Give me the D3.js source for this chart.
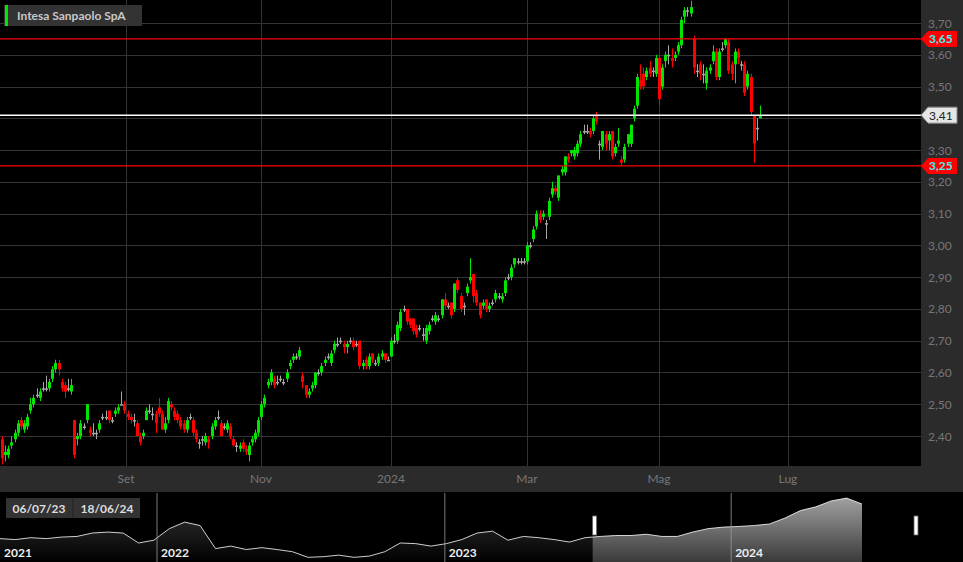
<!DOCTYPE html>
<html>
<head>
<meta charset="utf-8">
<script src="https://cdn.jsdelivr.net/npm/d3@7"></script>
<style>
  body { margin: 0; background: #000; overflow: hidden; }
  svg { display: block; font-family: Lato, "Open Sans", sans-serif; }
</style>
</head>
<body>
<svg id="chart" width="963" height="562"></svg>
<script>
// daily OHLC, 06/07/23 .. 18/06/24
var opens = [
  2.39,2.34,2.34,2.37,2.39,2.41,2.45,2.42,2.43,2.48, 2.50,2.53,2.52,2.55,2.55,2.55,2.58,2.61,2.63,2.57,
  2.56,2.55,2.54,2.45,2.39,2.40,2.43,2.45,2.42,2.41, 2.41,2.42,2.46,2.46,2.48,2.45,2.47,2.48,2.50,2.50,
  2.47,2.46,2.45,2.44,2.40,2.40,2.45,2.48,2.47,2.47, 2.49,2.47,2.42,2.45,2.50,2.48,2.47,2.45,2.44,2.42,
  2.46,2.45,2.41,2.38,2.39,2.38,2.39,2.40,2.43,2.46, 2.44,2.43,2.42,2.43,2.39,2.37,2.36,2.38,2.36,2.34,
  2.38,2.39,2.41,2.46,2.50,2.56,2.57,2.58,2.57,2.58, 2.57,2.58,2.62,2.64,2.65,2.65,2.59,2.56,2.53,2.55,
  2.56,2.60,2.60,2.63,2.65,2.63,2.67,2.69,2.70,2.69, 2.68,2.70,2.70,2.69,2.70,2.62,2.64,2.62,2.66,2.63,
  2.63,2.65,2.66,2.64,2.65,2.70,2.70,2.74,2.80,2.80, 2.77,2.77,2.74,2.74,2.72,2.70,2.73,2.77,2.76,2.77,
  2.78,2.83,2.81,2.82,2.80,2.89,2.84,2.81,2.85,2.89, 2.91,2.85,2.82,2.81,2.83,2.80,2.82,2.83,2.84,2.83,
  2.85,2.90,2.90,2.94,2.95,2.95,2.95,2.95,3.00,3.02, 3.06,3.10,3.09,3.07,3.09,3.16,3.18,3.15,3.23,3.23,
  3.28,3.29,3.28,3.29,3.32,3.36,3.36,3.36,3.36,3.41, 3.32,3.31,3.35,3.33,3.36,3.29,3.32,3.27,3.27,3.32,
  3.32,3.40,3.44,3.52,3.54,3.53,3.56,3.55,3.54,3.59, 3.50,3.58,3.60,3.59,3.59,3.61,3.63,3.72,3.74,3.73,
  3.65,3.55,3.57,3.54,3.51,3.55,3.58,3.61,3.53,3.62, 3.63,3.64,3.57,3.57,3.61,3.57,3.57,3.50,3.53,3.41,
  3.37,3.40
];
var closes = [
  2.33,2.35,2.36,2.38,2.41,2.44,2.43,2.44,2.46,2.50, 2.52,2.53,2.54,2.55,2.55,2.57,2.61,2.63,2.61,2.55,
  2.54,2.55,2.56,2.34,2.40,2.44,2.43,2.50,2.41,2.41, 2.41,2.44,2.46,2.46,2.45,2.45,2.48,2.49,2.50,2.48,
  2.46,2.45,2.45,2.40,2.38,2.41,2.48,2.48,2.47,2.44, 2.47,2.42,2.44,2.51,2.49,2.46,2.45,2.43,2.42,2.45,
  2.46,2.41,2.39,2.38,2.39,2.40,2.38,2.43,2.45,2.46, 2.40,2.43,2.44,2.40,2.37,2.37,2.37,2.36,2.35,2.37,
  2.39,2.41,2.45,2.50,2.52,2.57,2.60,2.56,2.57,2.58, 2.57,2.60,2.63,2.65,2.65,2.67,2.57,2.53,2.54,2.56,
  2.60,2.60,2.62,2.64,2.65,2.66,2.69,2.69,2.70,2.68, 2.69,2.70,2.68,2.69,2.62,2.63,2.62,2.65,2.64,2.63,
  2.65,2.66,2.64,2.64,2.70,2.70,2.75,2.79,2.80,2.76, 2.75,2.73,2.72,2.74,2.72,2.74,2.75,2.77,2.78,2.77,
  2.83,2.81,2.81,2.78,2.88,2.86,2.80,2.81,2.87,2.90, 2.84,2.82,2.78,2.82,2.80,2.81,2.82,2.85,2.84,2.84,
  2.89,2.90,2.93,2.96,2.95,2.95,2.95,3.00,3.00,3.05, 3.10,3.08,3.10,3.07,3.14,3.18,3.17,3.22,3.24,3.28,
  3.27,3.30,3.30,3.32,3.35,3.36,3.36,3.35,3.40,3.39, 3.32,3.36,3.32,3.35,3.28,3.31,3.33,3.26,3.31,3.35,
  3.38,3.43,3.53,3.50,3.50,3.55,3.54,3.55,3.59,3.46, 3.56,3.60,3.60,3.58,3.60,3.63,3.71,3.74,3.74,3.75,
  3.56,3.55,3.54,3.54,3.55,3.56,3.61,3.53,3.61,3.62, 3.65,3.55,3.54,3.61,3.59,3.57,3.48,3.54,3.42,3.32,
  3.37,3.41
];
var highs = [
  2.40,2.37,2.37,2.40,2.42,2.45,2.46,2.45,2.47,2.52, 2.53,2.55,2.55,2.57,2.59,2.58,2.62,2.64,2.64,2.58,
  2.57,2.58,2.58,2.45,2.41,2.45,2.44,2.50,2.43,2.44, 2.42,2.45,2.47,2.48,2.48,2.46,2.49,2.50,2.54,2.51,
  2.48,2.47,2.47,2.45,2.41,2.42,2.49,2.50,2.49,2.48, 2.52,2.48,2.46,2.52,2.51,2.49,2.48,2.46,2.45,2.46,
  2.47,2.46,2.42,2.39,2.40,2.41,2.40,2.44,2.46,2.48, 2.45,2.44,2.45,2.44,2.40,2.38,2.38,2.39,2.37,2.38,
  2.40,2.42,2.46,2.51,2.53,2.58,2.61,2.59,2.59,2.59, 2.58,2.61,2.64,2.66,2.66,2.68,2.60,2.56,2.55,2.57,
  2.60,2.61,2.63,2.65,2.66,2.67,2.70,2.71,2.71,2.70, 2.70,2.71,2.71,2.70,2.70,2.64,2.65,2.66,2.66,2.64,
  2.66,2.67,2.66,2.65,2.71,2.72,2.76,2.80,2.81,2.80, 2.77,2.77,2.75,2.75,2.74,2.75,2.76,2.78,2.79,2.78,
  2.83,2.85,2.82,2.82,2.88,2.90,2.85,2.82,2.88,2.96, 2.91,2.86,2.82,2.83,2.83,2.82,2.83,2.86,2.85,2.85,
  2.90,2.91,2.94,2.96,2.96,2.96,2.96,3.01,3.01,3.06, 3.11,3.11,3.11,3.08,3.15,3.20,3.19,3.22,3.25,3.28,
  3.29,3.30,3.31,3.33,3.36,3.38,3.38,3.37,3.41,3.42, 3.33,3.36,3.36,3.36,3.36,3.32,3.37,3.28,3.32,3.35,
  3.38,3.44,3.54,3.57,3.56,3.56,3.58,3.56,3.60,3.60, 3.57,3.61,3.63,3.62,3.61,3.64,3.72,3.75,3.75,3.77,
  3.66,3.57,3.58,3.57,3.56,3.57,3.63,3.62,3.62,3.64, 3.65,3.65,3.58,3.62,3.62,3.58,3.58,3.55,3.54,3.41,
  3.40,3.44
];
var lows = [
  2.31,2.32,2.33,2.36,2.38,2.40,2.42,2.41,2.42,2.47, 2.49,2.52,2.51,2.54,2.54,2.54,2.57,2.60,2.59,2.54,
  2.52,2.54,2.53,2.33,2.37,2.39,2.42,2.44,2.40,2.40, 2.39,2.41,2.45,2.45,2.44,2.44,2.46,2.47,2.50,2.47,
  2.45,2.44,2.43,2.40,2.37,2.39,2.45,2.47,2.45,2.41, 2.46,2.42,2.41,2.44,2.48,2.45,2.44,2.42,2.41,2.41,
  2.45,2.40,2.38,2.36,2.37,2.37,2.36,2.39,2.42,2.45, 2.40,2.42,2.41,2.39,2.37,2.35,2.35,2.35,2.34,2.32,
  2.37,2.38,2.40,2.45,2.49,2.55,2.56,2.55,2.56,2.57, 2.56,2.57,2.61,2.63,2.64,2.64,2.55,2.52,2.52,2.54,
  2.55,2.59,2.59,2.62,2.64,2.62,2.66,2.68,2.69,2.66, 2.66,2.69,2.67,2.68,2.61,2.61,2.61,2.61,2.63,2.62,
  2.62,2.64,2.63,2.64,2.65,2.69,2.69,2.73,2.79,2.75, 2.74,2.72,2.71,2.73,2.70,2.69,2.72,2.76,2.75,2.76,
  2.77,2.80,2.80,2.77,2.79,2.85,2.79,2.78,2.84,2.88, 2.82,2.81,2.77,2.80,2.79,2.79,2.81,2.82,2.83,2.82,
  2.84,2.89,2.89,2.93,2.94,2.94,2.94,2.94,2.99,3.01, 3.05,3.07,3.08,3.02,3.08,3.15,3.16,3.14,3.22,3.22,
  3.26,3.28,3.27,3.28,3.31,3.35,3.35,3.34,3.35,3.38, 3.27,3.30,3.30,3.30,3.27,3.28,3.31,3.25,3.26,3.31,
  3.31,3.39,3.43,3.49,3.49,3.52,3.53,3.53,3.53,3.44, 3.49,3.56,3.57,3.56,3.58,3.60,3.62,3.70,3.72,3.72,
  3.54,3.53,3.52,3.51,3.49,3.54,3.57,3.52,3.52,3.61, 3.62,3.54,3.52,3.51,3.57,3.55,3.47,3.49,3.41,3.26,
  3.33,3.40
];

// axis
var monthLabels = ["Set", "Nov", "2024", "Mar", "Mag", "Lug"];
var monthSlots = [39.5, 82.9, 124, 167, 209, 250];   // candle index where each month starts
var priceTicks = [2.40,2.50,2.60,2.70,2.80,2.90,3.00,3.10,3.20,3.30,3.40,3.50,3.60,3.70];
var lastPrice = 3.41;
var levelLines = [3.65, 3.25];

// navigator: longer history 2021 .. 2024
var navPrices = [
  2.35,2.32,2.38,2.35,2.40,2.42,2.53,2.56,2.53,2.21,2.30,
  2.67,2.88,2.77,2.03,2.11,2.00,2.06,2.00,1.93,1.75,1.77,1.82,1.75,1.79,1.93,2.21,2.19,2.11,2.19,
  2.32,2.53,2.59,2.30,2.42,2.38,2.32,2.24,2.38,2.42,2.45,2.45,2.49,2.42,2.42,2.56,2.67,2.72,2.74,2.77,2.82,3.01,3.25,3.37,3.56,3.65,3.46
];
var navYears = ["2021", "2022", "2023", "2024"];
var navYearSlots = [0, 10.2, 28.9, 47.5];
var navSelStart = 38.5;
var rangeText = ["06/07/23", "18/06/24"];

var W = 963, H = 562, plotR = 921, plotB = 466;
var svg = d3.select("#chart");

svg.append("rect").attr("width", W).attr("height", H).attr("fill", "#000");
svg.append("rect").attr("x", plotR).attr("y", 0).attr("width", W - plotR).attr("height", plotB + 26).attr("fill", "#2b2b2b");
svg.append("rect").attr("x", 0).attr("y", plotB).attr("width", W).attr("height", 26).attr("fill", "#2b2b2b");

var x = d3.scaleLinear()
  .domain([0, 39.5, 82.9, 124, 167, 209, 241, 250, 292])
  .range([2, 126, 261, 391, 527, 659, 760, 788, 918]);
var y = d3.scaleLinear().domain([3.70, 2.40]).range([23, 436]);

// grid
svg.append("g").selectAll("line").data(priceTicks).join("line")
  .attr("x1", 0).attr("x2", plotR).attr("y1", d => Math.round(y(d)) + 0.5).attr("y2", d => Math.round(y(d)) + 0.5)
  .attr("stroke", "#333");
svg.append("g").selectAll("line").data(monthSlots).join("line")
  .attr("x1", d => Math.round(x(d)) + 0.5).attr("x2", d => Math.round(x(d)) + 0.5)
  .attr("y1", 0).attr("y2", plotB).attr("stroke", "#333");

svg.append("g").selectAll("text").data(priceTicks.filter(d => Math.abs(d - lastPrice) > 0.03)).join("text")
  .attr("x", 928).attr("y", d => y(d) + 4.5)
  .attr("fill", "#777").attr("font-size", 12)
  .text(d => d3.format(".2f")(d).replace(".", ","));

svg.append("g").selectAll("text").data(monthLabels).join("text")
  .attr("x", (d, i) => x(monthSlots[i])).attr("y", plotB + 17)
  .attr("text-anchor", "middle").attr("fill", "#777").attr("font-size", 12)
  .text(d => d);

// candles
var idx = d3.range(closes.length);
function col(i) {
  if (opens[i] === closes[i]) return "#a8a8a8";
  return closes[i] > opens[i] ? "#00e600" : "#ff0000";
}
var cg = svg.append("g");
cg.selectAll("line").data(idx).join("line")
  .attr("x1", i => Math.round(x(i)) + 0.5).attr("x2", i => Math.round(x(i)) + 0.5)
  .attr("y1", i => y(highs[i])).attr("y2", i => y(lows[i]))
  .attr("stroke", col).attr("stroke-width", 1);
cg.selectAll("rect").data(idx).join("rect")
  .attr("x", i => Math.round(x(i)) - 1)
  .attr("width", 3)
  .attr("y", i => y(Math.max(opens[i], closes[i])))
  .attr("height", i => Math.max(1.5, Math.abs(y(opens[i]) - y(closes[i]))))
  .attr("fill", col);

// level lines + tags
function tag(v, fill, textFill, stroke) {
  var yy = y(v);
  svg.append("path")
    .attr("d", `M${plotR},${yy} L${plotR + 7},${yy - 8} L${plotR + 36},${yy - 8} L${plotR + 36},${yy + 8} L${plotR + 7},${yy + 8} Z`)
    .attr("fill", fill).attr("stroke", stroke || "none");
  svg.append("text").attr("x", plotR + 8).attr("y", yy + 4.5)
    .attr("fill", textFill).attr("font-size", 12).attr("font-weight", stroke ? "normal" : "bold")
    .text(d3.format(".2f")(v).replace(".", ","));
}
levelLines.forEach(function(v) {
  svg.append("line").attr("x1", 0).attr("x2", plotR).attr("y1", y(v)).attr("y2", y(v))
    .attr("stroke", "#ff0000").attr("stroke-width", 1.3);
  tag(v, "#ff0000", "#40f0f0");
});
svg.append("line").attr("x1", 0).attr("x2", plotR).attr("y1", y(lastPrice)).attr("y2", y(lastPrice))
  .attr("stroke", "#fff").attr("stroke-width", 1.5);
tag(lastPrice, "#e6e6e6", "#222", "#888");

// legend
svg.append("rect").attr("x", 4).attr("y", 5).attr("width", 138).attr("height", 21).attr("fill", "#333");
svg.append("rect").attr("x", 5).attr("y", 5).attr("width", 3).attr("height", 21).attr("fill", "#00e600");
svg.append("text").attr("x", 17).attr("y", 20).attr("fill", "#c8c8c8")
  .attr("font-size", 12).attr("font-weight", "bold").text("Intesa Sanpaolo SpA");

// navigator
var navTop = 493;
var nx = d3.scaleLinear().domain([0, navPrices.length - 1]).range([0, 862]);
var ny = d3.scaleLinear().domain([1.6, 3.75]).range([562, 495]);
var defs = svg.append("defs");
var g1 = defs.append("linearGradient").attr("id", "gDark").attr("x1", 0).attr("x2", 0).attr("y1", 0).attr("y2", 1);
g1.append("stop").attr("offset", "0%").attr("stop-color", "#3a3a3a");
g1.append("stop").attr("offset", "100%").attr("stop-color", "#000");
var g2 = defs.append("linearGradient").attr("id", "gLight").attr("x1", 0).attr("x2", 0).attr("y1", 0).attr("y2", 1);
g2.append("stop").attr("offset", "0%").attr("stop-color", "#a0a0a0");
g2.append("stop").attr("offset", "100%").attr("stop-color", "#3a3a3a");
defs.append("clipPath").attr("id", "cL").append("rect").attr("x", 0).attr("y", navTop).attr("width", nx(navSelStart)).attr("height", 70);
defs.append("clipPath").attr("id", "cR").append("rect").attr("x", nx(navSelStart)).attr("y", navTop).attr("width", 900).attr("height", 70);

var area = d3.area().x((d, i) => nx(i)).y0(H).y1(d => ny(d));
svg.append("path").datum(navPrices).attr("d", area).attr("fill", "url(#gDark)").attr("clip-path", "url(#cL)");
svg.append("path").datum(navPrices).attr("d", area).attr("fill", "url(#gLight)").attr("clip-path", "url(#cR)");
svg.append("path").datum(navPrices).attr("d", d3.line().x((d, i) => nx(i)).y(d => ny(d)))
  .attr("fill", "none").attr("stroke", "#fff").attr("stroke-width", 0.8);

svg.append("g").selectAll("line").data(navYearSlots.slice(1)).join("line")
  .attr("x1", d => nx(d)).attr("x2", d => nx(d)).attr("y1", navTop).attr("y2", H)
  .attr("stroke", "#999").attr("stroke-width", 0.8);
svg.append("g").selectAll("text").data(navYears).join("text")
  .attr("x", (d, i) => nx(navYearSlots[i]) + 4).attr("y", 557)
  .attr("fill", "#eee").attr("font-size", 12).attr("font-weight", "bold").text(d => d);

[nx(navSelStart) + 2, 916].forEach(function(hx) {
  svg.append("rect").attr("x", hx - 2).attr("y", 516).attr("width", 4).attr("height", 19)
    .attr("fill", "#fff").attr("stroke", "#666").attr("stroke-width", 0.8);
});

svg.append("rect").attr("x", 6).attr("y", 498).attr("width", 134).attr("height", 20).attr("fill", "#333");
svg.append("line").attr("x1", 73).attr("x2", 73).attr("y1", 498).attr("y2", 518).attr("stroke", "#222");
rangeText.forEach(function(t, i) {
  svg.append("text").attr("x", 39 + i * 68).attr("y", 513).attr("text-anchor", "middle")
    .attr("fill", "#ddd").attr("font-size", 12).attr("font-weight", "bold").text(t);
});
</script>
</body>
</html>
